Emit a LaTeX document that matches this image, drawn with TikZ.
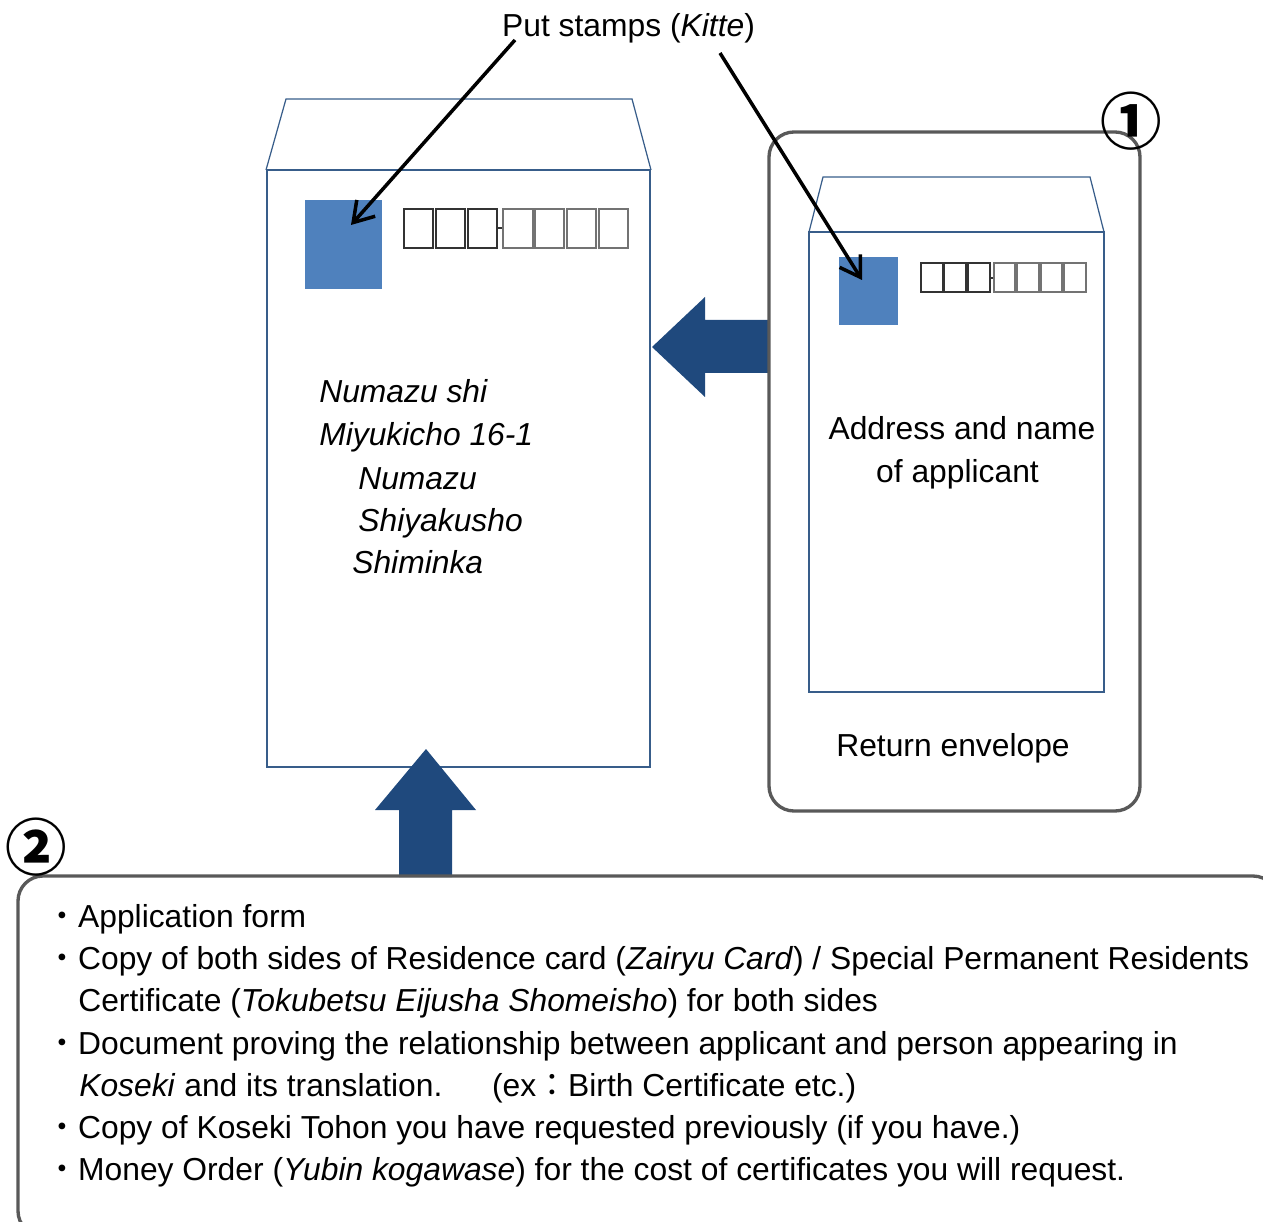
\documentclass[tikz,border=0pt]{standalone}
\usepackage{fontspec}
\setmainfont{Liberation Sans}
\newfontfamily\cjk{Noto Sans CJK JP}
\usetikzlibrary{arrows.meta}
\definecolor{envline}{HTML}{385D8A}
\definecolor{stampblue}{HTML}{4F81BD}
\definecolor{arrowblue}{HTML}{1F497D}
\definecolor{boxgray}{HTML}{595959}
\begin{document}
\begin{tikzpicture}[x=0.02cm,y=-0.02cm,
  env/.style={draw=envline, line width=0.7pt},
  stamp/.style={fill=stampblue, draw=none, inner sep=0pt, anchor=north west},
  zipbold/.style={draw=black!80, line width=1.4pt},
  zipthin/.style={draw=black!55, line width=0.8pt},
  blockarrow/.style={fill=arrowblue, draw=none},
  groupbox/.style={draw=boxgray, line width=1.9pt, rounded corners=0.5cm},
  txt/.style={inner sep=0pt, font=\fontsize{18.1}{21.6}\selectfont},
  pointer/.style={draw=black, line width=2pt, -{Straight Barb[length=11pt,width=14pt,line width=2pt]}},
  circnum/.style={inner sep=0pt, font=\cjk\bfseries\fontsize{35}{35}\selectfont}
]
\useasboundingbox (0,0) rectangle (1263,1222);

% left envelope
\draw[env] (267,170) rectangle (650,767);
\draw[env] (266,170) -- (286,99) -- (632,99) -- (651,170);
\node[stamp, minimum width=1.54cm, minimum height=1.78cm] (stampL) at (305,200) {};
\foreach \a/\b in {404/433,436/465,468/497}{\draw[zipbold] (\a,209) rectangle (\b,248);}
\draw[zipbold] (497,228) -- (503,228);
\foreach \a/\b in {503/533,535/564,567/596,599/628}{\draw[zipthin] (\a,209) rectangle (\b,248);}

% right envelope
\draw[env] (809,232) rectangle (1104,692);
\draw[env] (809,232) -- (823,177) -- (1090,177) -- (1104,232);
\node[stamp, minimum width=1.18cm, minimum height=1.36cm] (stampR) at (839,257) {};
\foreach \a/\b in {921/943,944/966,968/990}{\draw[zipbold, line width=1.1pt] (\a,263) rectangle (\b,292);}
\draw[zipbold, line width=1.1pt] (990,278) -- (994,278);
\foreach \a/\b in {994/1015,1017/1039,1041/1062,1064/1086}{\draw[zipthin] (\a,263) rectangle (\b,292);}

% block arrows
\fill[blockarrow] (652,347) -- (705,297) -- (705,320) -- (769,320) -- (769,373) -- (705,373) -- (705,397) -- cycle;
\fill[blockarrow] (426,749) -- (476,810) -- (452,810) -- (452,877) -- (399,877) -- (399,810) -- (375,810) -- cycle;

% group boxes
\draw[groupbox] (769,132) rectangle (1140,811);
\draw[groupbox] (18,876) rectangle (1278,1236);

% circled numbers
\node[circnum] (one) at (1131,121) {①};
\node[circnum] (two) at (36,847) {②};

% texts
\node[txt, anchor=base] (kitte) at (628.5,37) {Put stamps (\textit{Kitte})};
\node[txt, anchor=base west] (a1) at (319,403) {\itshape Numazu shi};
\node[txt, anchor=base west] (a2) at (319,446) {\itshape Miyukicho 16-1};
\node[txt, anchor=base west] (a3) at (358,489) {\itshape Numazu};
\node[txt, anchor=base west] (a4) at (358,531) {\itshape Shiyakusho};
\node[txt, anchor=base west] (a5) at (352,573) {\itshape Shiminka};
\node[txt, anchor=base] (r1) at (962,440) {Address and name};
\node[txt, anchor=base] (r2) at (957.5,482) {of applicant};
\node[txt, anchor=base] (ret) at (953,756) {Return envelope};

\node[txt, anchor=base west] (l1) at (46,927) {{\cjk ・}Application form};
\node[txt, anchor=base west] (l2) at (46,969) {{\cjk ・}Copy of both sides of Residence card (\textit{Zairyu Card}) / Special Permanent Residents};
\node[txt, anchor=base west] (l3) at (78,1011) {Certificate (\textit{Tokubetsu Eijusha Shomeisho}) for both sides};
\node[txt, anchor=base west] (l4) at (46,1054) {{\cjk ・}Document proving the relationship between applicant and person appearing in};
\node[txt, anchor=base west] (l5) at (79,1096) {\textit{Koseki} and its translation.\hspace{28.3pt}(ex{\cjk ：}Birth Certificate etc.)};
\node[txt, anchor=base west] (l6) at (46,1138) {{\cjk ・}Copy of Koseki Tohon you have requested previously (if you have.)};
\node[txt, anchor=base west] (l7) at (46,1180) {{\cjk ・}Money Order (\textit{Yubin kogawase}) for the cost of certificates you will request.};

% pointers
\coordinate (fromL) at (515,40);
\coordinate (tipL) at (351,225);
\coordinate (fromR) at (720,53);
\coordinate (tipR) at (862,280);
\draw[pointer] (fromL) -- (tipL);
\draw[pointer] (fromR) -- (tipR);
\end{tikzpicture}
\end{document}
